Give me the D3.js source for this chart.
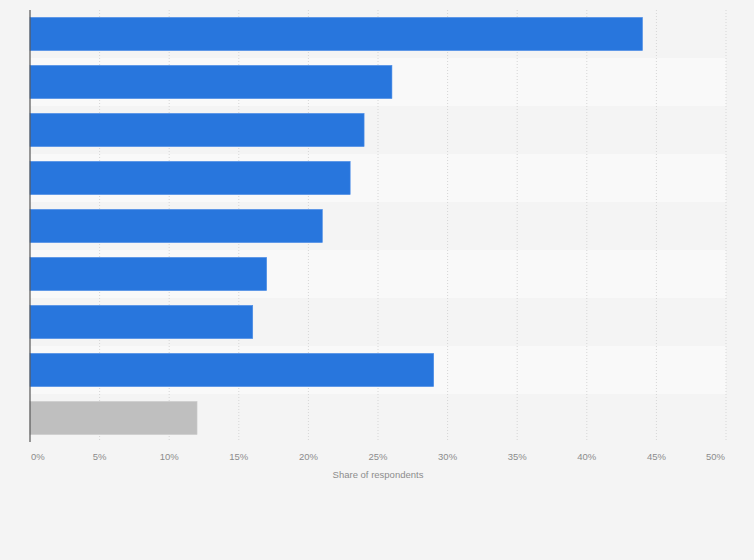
<!DOCTYPE html>
<html>
<head>
<meta charset="utf-8">
<script src="https://cdn.jsdelivr.net/npm/d3@7"></script>
<style>
  html, body { margin: 0; padding: 0; background: #f4f4f4; }
  svg { display: block; font-family: "Liberation Sans", Arial, sans-serif; }
</style>
</head>
<body>
<svg id="chart"></svg>
<script>
// one row per answer, labels are not shown in the picture
const rows = ["r1", "r2", "r3", "r4", "r5", "r6", "r7", "r8", "r9"];
const shares = [44, 26, 24, 23, 21, 17, 16, 29, 12];
const highlight = [true, true, true, true, true, true, true, true, false];
const ticks = [0, 5, 10, 15, 20, 25, 30, 35, 40, 45, 50];
const axisTitle = "Share of respondents";

const width = 754, height = 560;
const margin = { top: 10, right: 28, bottom: 118, left: 30 };

const svg = d3.select("#chart")
  .attr("width", width)
  .attr("height", height);

svg.append("rect")
  .attr("width", width)
  .attr("height", height)
  .attr("fill", "#f4f4f4");

const x = d3.scaleLinear()
  .domain([0, 50])
  .range([margin.left, width - margin.right]);

const y = d3.scaleBand()
  .domain(rows)
  .range([margin.top, height - margin.bottom])
  .paddingInner(0.31)
  .paddingOuter(0.155);

// alternating row stripes
const step = y.step();
const y0 = margin.top;
svg.append("g")
  .selectAll("rect")
  .data(rows.filter((d, i) => i % 2 == 1))
  .join("rect")
  .attr("x", x(0))
  .attr("width", x(50) - x(0))
  .attr("y", d => y0 + rows.indexOf(d) * step)
  .attr("height", step)
  .attr("fill", "#f9f9f9");

// dotted grid lines
svg.append("g")
  .selectAll("line")
  .data(ticks.slice(1))
  .join("line")
  .attr("x1", d => x(d)).attr("x2", d => x(d))
  .attr("y1", margin.top).attr("y2", height - margin.bottom)
  .attr("stroke", "#d6d6d6")
  .attr("stroke-width", 1)
  .attr("stroke-dasharray", "1,2");

// bars
svg.append("g")
  .selectAll("rect")
  .data(rows)
  .join("rect")
  .attr("x", x(0))
  .attr("y", d => y(d))
  .attr("width", (d, i) => x(shares[i]) - x(0))
  .attr("height", y.bandwidth())
  .attr("fill", (d, i) => highlight[i] ? "#2876dd" : "#bfbfbf")
  .attr("stroke", (d, i) => highlight[i] ? "#4a8ce6" : "#cccccc")
  .attr("stroke-width", 0.6);

// left axis line
svg.append("line")
  .attr("x1", x(0)).attr("x2", x(0))
  .attr("y1", margin.top).attr("y2", height - margin.bottom)
  .attr("stroke", "#555")
  .attr("stroke-width", 1.2);

// tick labels, the first and last are pulled inwards
svg.append("g")
  .selectAll("text")
  .data(ticks)
  .join("text")
  .attr("x", (d, i) => i == 0 ? x(d) + 1 : (i == ticks.length - 1 ? x(d) - 1 : x(d)))
  .attr("y", 460)
  .attr("text-anchor", (d, i) => i == 0 ? "start" : (i == ticks.length - 1 ? "end" : "middle"))
  .attr("font-size", 9.5)
  .attr("fill", "#8c8c8c")
  .text(d => d + "%");

svg.append("text")
  .attr("x", (x(0) + x(50)) / 2)
  .attr("y", 478)
  .attr("text-anchor", "middle")
  .attr("font-size", 9.5)
  .attr("fill", "#8c8c8c")
  .text(axisTitle);
</script>
</body>
</html>
